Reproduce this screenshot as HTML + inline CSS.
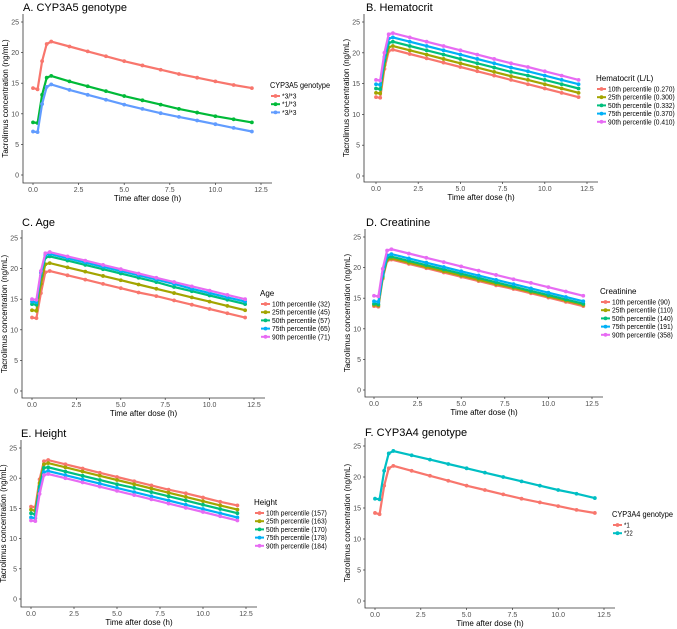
<!DOCTYPE html>
<html><head><meta charset="utf-8"><style>
body{margin:0;background:#fff}
svg{display:block;font-family:"Liberation Sans",Arial,sans-serif}
</style></head><body>
<svg id="fig" width="677" height="629" viewBox="0 0 677 629"></svg>
<script>
const times=[0,0.25,0.5,0.75,1,2,3,4,5,6,7,8,9,10,11,12];
const xTicks=[0,2.5,5,7.5,10,12.5];
const xTickLabels=["0.0","2.5","5.0","7.5","10.0","12.5"];
const yTicks=[0,5,10,15,20,25];
const yTickLabels=["0","5","10","15","20","25"];
const col3=["#F8766D","#00BA38","#619CFF"];
const col5=["#F8766D","#A3A500","#00BF7D","#00B0F6","#E76BF3"];
const col2=["#F8766D","#00BFC4"];

const aLabels=["*3/*3","*1/*3","*3/*3"];
const aRed=[14.2,14.0,18.6,21.4,21.8,21.0,20.2,19.4,18.6,17.9,17.2,16.5,15.9,15.3,14.7,14.2];
const aGreen=[8.6,8.5,13.1,15.9,16.2,15.3,14.5,13.7,12.9,12.2,11.5,10.8,10.2,9.6,9.1,8.6];
const aBlue=[7.1,7.0,11.6,14.4,14.8,13.9,13.1,12.3,11.5,10.8,10.1,9.5,8.9,8.3,7.7,7.1];

const bLabels=["10th percentile (0.270)","25th percentile (0.300)","50th percentile (0.332)","75th percentile (0.370)","90th percentile (0.410)"];
const b10=[12.8,12.7,17.4,20.3,20.5,19.8,19.1,18.4,17.7,17.0,16.3,15.6,14.9,14.2,13.5,12.8];
const b25=[13.5,13.4,18.0,20.9,21.1,20.4,19.7,19.0,18.3,17.6,16.9,16.2,15.6,14.9,14.2,13.5];
const b50=[14.2,14.1,18.7,21.6,21.8,21.1,20.4,19.7,19.0,18.3,17.6,16.9,16.3,15.6,14.9,14.2];
const b75=[14.9,14.8,19.3,22.3,22.5,21.8,21.1,20.4,19.7,19.0,18.3,17.6,17.0,16.3,15.6,14.9];
const b90=[15.6,15.5,20.0,23.0,23.2,22.5,21.8,21.1,20.4,19.7,19.0,18.3,17.7,17.0,16.3,15.6];

const cLabels=["10th percentile (32)","25th percentile (45)","50th percentile (57)","75th percentile (65)","90th percentile (71)"];
const c10=[12.0,11.9,16.0,19.4,19.6,18.9,18.2,17.5,16.8,16.1,15.5,14.8,14.1,13.4,12.7,12.0];
const c25=[13.2,13.1,17.5,20.7,20.9,20.2,19.5,18.8,18.1,17.4,16.7,16.0,15.3,14.6,13.9,13.2];
const c50=[14.2,14.1,18.8,21.8,22.0,21.3,20.6,19.9,19.2,18.5,17.8,17.0,16.3,15.6,14.9,14.2];
const c75=[14.6,14.5,19.3,22.2,22.4,21.7,21.0,20.3,19.6,18.9,18.2,17.5,16.7,16.0,15.3,14.6];
const c90=[15.0,14.9,19.6,22.5,22.7,22.0,21.3,20.6,19.9,19.2,18.5,17.8,17.1,16.4,15.7,15.0];

const dLabels=["10th percentile (90)","25th percentile (110)","50th percentile (140)","75th percentile (191)","90th percentile (358)"];
const d10=[13.7,13.6,18.2,21.1,21.3,20.6,19.9,19.2,18.5,17.8,17.1,16.5,15.8,15.1,14.4,13.7];
const d25=[13.9,13.8,18.4,21.3,21.5,20.8,20.1,19.4,18.7,18.0,17.3,16.7,16.0,15.3,14.6,13.9];
const d50=[14.1,14.0,18.6,21.6,21.8,21.1,20.4,19.7,19.0,18.3,17.6,16.9,16.2,15.5,14.8,14.1];
const d75=[14.5,14.4,19.0,22.0,22.2,21.5,20.8,20.1,19.4,18.7,18.0,17.3,16.6,15.9,15.2,14.5];
const d90=[15.4,15.3,19.8,22.8,23.0,22.3,21.6,20.9,20.2,19.5,18.8,18.1,17.5,16.8,16.1,15.4];

const eLabels=["10th percentile (157)","25th percentile (163)","50th percentile (170)","75th percentile (178)","90th percentile (184)"];
const e10=[15.3,15.2,19.8,22.8,23.0,22.3,21.6,20.9,20.2,19.5,18.8,18.1,17.5,16.8,16.1,15.5];
const e25=[14.8,14.6,19.2,22.3,22.5,21.8,21.1,20.4,19.7,19.0,18.3,17.6,16.9,16.2,15.5,14.8];
const e50=[14.2,14.0,18.6,21.7,21.8,21.1,20.4,19.7,19.0,18.4,17.7,17.0,16.3,15.6,14.9,14.2];
const e75=[13.5,13.4,18.0,21.0,21.2,20.5,19.8,19.1,18.4,17.7,17.0,16.3,15.6,14.9,14.2,13.5];
const e90=[13.0,12.9,17.4,20.5,20.7,20.0,19.3,18.6,17.9,17.2,16.5,15.8,15.1,14.4,13.7,13.0];

const fLabels=["*1","*22"];
const f1=[14.2,14.0,18.6,21.4,21.8,21.0,20.2,19.4,18.6,17.9,17.2,16.5,15.9,15.3,14.7,14.2];
const f22=[16.5,16.4,21.0,23.8,24.2,23.5,22.8,22.1,21.4,20.7,20.0,19.3,18.6,17.9,17.3,16.6];

const NS="http://www.w3.org/2000/svg";
const svg=document.getElementById('fig');
function mk(tag,attrs,parent,text){const e=document.createElementNS(NS,tag);for(const k in attrs)e.setAttribute(k,attrs[k]);if(text!==undefined)e.textContent=text;(parent||svg).appendChild(e);return e;}

const panels=[
 {id:"a",title:"A. CYP3A5 genotype",series:[aRed,aGreen,aBlue],labels:aLabels,cols:col3,leg:"CYP3A5 genotype",legW:60,
  x0:33,x1:261,y0:175,y25:22,axL:23,axB:183,tx:23,ty:11,lx:270,ly:85},
 {id:"b",title:"B. Hematocrit",series:[b10,b25,b50,b75,b90],labels:bLabels,cols:col5,leg:"Hematocrit (L/L)",
  x0:376,x1:587,y0:176,y25:22,axL:364,axB:182,tx:366,ty:11,lx:596,ly:78},
 {id:"c",title:"C. Age",series:[c10,c25,c50,c75,c90],labels:cLabels,cols:col5,leg:"Age",
  x0:32,x1:254,y0:391,y25:238,axL:22,axB:398,tx:22,ty:226,lx:260,ly:293},
 {id:"d",title:"D. Creatinine",series:[d10,d25,d50,d75,d90],labels:dLabels,cols:col5,leg:"Creatinine",
  x0:374,x1:592,y0:390,y25:237,axL:365,axB:397,tx:366,ty:226,lx:600,ly:291},
 {id:"e",title:"E. Height",series:[e10,e25,e50,e75,e90],labels:eLabels,cols:col5,leg:"Height",
  x0:31,x1:246,y0:599,y25:448,axL:21,axB:607,tx:21,ty:437,lx:254,ly:502},
 {id:"f",title:"F. CYP3A4 genotype",series:[f1,f22],labels:fLabels,cols:col2,leg:"CYP3A4 genotype",legW:61,
  x0:375,x1:604,y0:601,y25:446,axL:365,axB:608,tx:365,ty:436,lx:612,ly:514}
];

panels.forEach(p=>{
 const g=mk('g',{});
 
 
 const sx=v=>p.x0+(v/12.5)*(p.x1-p.x0);
 const sy=v=>p.y0-(v/25)*(p.y0-p.y25);
 const t=mk('text',{x:p.tx,y:p.ty,'font-size':11,fill:'#000'},g,p.title);
 
 
 const ax=mk('path',{d:`M${p.axL} ${p.y25-8}V${p.axB}H${p.x1+11}`,stroke:'#333',fill:'none','stroke-width':0.8},g);
 
 
 yTicks.forEach((v,i)=>{
  mk('line',{x1:p.axL-2,x2:p.axL,y1:sy(v),y2:sy(v),stroke:'#333','stroke-width':0.7},g);
  const l=mk('text',{x:p.axL-4,y:sy(v)+2.5,'font-size':7,fill:'#4d4d4d','text-anchor':'end'},g,yTickLabels[i]);
  
  
 });
 xTicks.forEach((v,i)=>{
  mk('line',{x1:sx(v),x2:sx(v),y1:p.axB,y2:p.axB+2,stroke:'#333','stroke-width':0.7},g);
  const l=mk('text',{x:sx(v),y:p.axB+9,'font-size':7,fill:'#4d4d4d','text-anchor':'middle'},g,xTickLabels[i]);
  
  
 });
 const xt=mk('text',{x:(p.axL+p.x1+11)/2,y:p.axB+18,'font-size':8,fill:'#000','text-anchor':'middle'},g,"Time after dose (h)");
 
 
 const cy=(p.y25-8+p.axB)/2, cx=p.axL-15;
 const yt=mk('text',{x:cx,y:cy,'font-size':8,fill:'#000','text-anchor':'middle',transform:`rotate(-90 ${cx} ${cy})`},g,"Tacrolimus concentration (ng/mL)");
 
 
 p.series.forEach((s,si)=>{
  const c=p.cols[si];
  const pts=s.map((v,i)=>sx(times[i]).toFixed(1)+','+sy(v).toFixed(1)).join(' ');
  const pl=mk('polyline',{points:pts,fill:'none',stroke:c,'stroke-width':2.2},g);
  
  
  s.forEach((v,i)=>{
   const pt=mk('circle',{cx:sx(times[i]),cy:sy(v),r:1.9,fill:c},g);
   
   
  });
 });
 const ltAttrs={x:p.lx,y:p.ly+3,'font-size':8,fill:'#000'};
 if(p.legW){ltAttrs.textLength=p.legW;ltAttrs.lengthAdjust='spacingAndGlyphs';}
 const lt=mk('text',ltAttrs,g,p.leg);
 
 
 p.labels.forEach((lab,i)=>{
  const yy=p.ly+11+i*8.2;
  const le=mk('g',{},g);
  
  
  mk('line',{x1:p.lx+1,x2:p.lx+10,y1:yy,y2:yy,stroke:p.cols[i],'stroke-width':2},le);
  mk('circle',{cx:p.lx+5.5,cy:yy,r:1.9,fill:p.cols[i]},le);
  mk('text',{x:p.lx+12,y:yy+2.5,'font-size':7,fill:'#000',textLength:(lab.length*2.9).toFixed(1),lengthAdjust:'spacingAndGlyphs'},le,lab);
 });
});
</script>
</body></html>
